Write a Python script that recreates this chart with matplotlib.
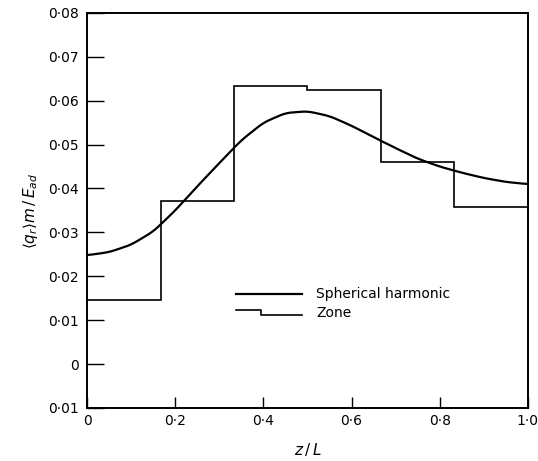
import matplotlib
matplotlib.use("Agg")
import matplotlib.pyplot as plt
from matplotlib.legend_handler import HandlerBase
from matplotlib.lines import Line2D
import numpy as np

# Zone model (step values over six equal zones)
zone_edges = [0, 1/6, 1/3, 1/2, 2/3, 5/6, 1.0]
zone_values = [0.0145, 0.0372, 0.0634, 0.0624, 0.0461, 0.0357]

# Spherical harmonic solution (smooth curve)
sh_z = [0.0, 0.05, 0.10, 0.15, 0.20, 0.25, 0.30, 0.35, 0.40, 0.45, 0.50,
        0.55, 0.60, 0.65, 0.70, 0.75, 0.80, 0.85, 0.90, 0.95, 1.0]
sh_v = [0.0248, 0.0255, 0.0272, 0.0302, 0.0350, 0.0405, 0.0458, 0.0510,
        0.0550, 0.0572, 0.0576, 0.0565, 0.0543, 0.0517, 0.0492, 0.0468,
        0.0450, 0.0436, 0.0424, 0.0415, 0.0410]

x_ticks = [0, 0.2, 0.4, 0.6, 0.8, 1.0]
x_labels = ["0", "0·2", "0·4", "0·6", "0·8", "1·0"]
y_ticks = [-0.01, 0.0, 0.01, 0.02, 0.03, 0.04, 0.05, 0.06, 0.07, 0.08]
y_labels = ["0·01", "0", "0·01", "0·02", "0·03", "0·04", "0·05", "0·06", "0·07", "0·08"]

plt.rcParams['font.family'] = ['DejaVu Sans']

fig = plt.figure(figsize=(5.38, 4.61), dpi=100)
ax = fig.add_axes([0.162, 0.115, 0.819, 0.857])

# smooth curve
zz = np.linspace(0, 1, 300)
vv = np.interp(zz, sh_z, sh_v)
# light smoothing of the interpolated polyline
k = 9
kern = np.ones(k) / k
vpad = np.pad(vv, (k // 2, k // 2), mode='edge')
vs = np.convolve(vpad, kern, mode='valid')
ax.plot(zz, vs, color='black', lw=1.6, label='Spherical harmonic')

ax.stairs(zone_values, zone_edges, baseline=None, color='black', lw=1.2,
          label='Zone')

ax.set_xlim(0, 1.0)
ax.set_ylim(-0.01, 0.08)
ax.set_xticks(x_ticks)
ax.set_xticklabels(x_labels)
ax.set_yticks(y_ticks)
ax.set_yticklabels(y_labels)
ax.tick_params(axis='y', direction='in', length=12, width=1.0, pad=6,
               labelsize=10)
ax.tick_params(axis='x', direction='in', length=8, width=1.0, pad=4,
               labelsize=10)
for s in ax.spines.values():
    s.set_linewidth(1.4)

ax.set_xlabel(r"$z\,/\,L$", fontsize=11, labelpad=10)
ax.set_ylabel(r"$\langle q_r\rangle m\,/\,E_{ad}$", fontsize=11, labelpad=6)


class StepHandler(HandlerBase):
    def create_artists(self, legend, orig_handle, xdescent, ydescent,
                       width, height, fontsize, trans):
        x0 = -xdescent
        xm = x0 + 0.38 * width
        x1 = x0 + width
        yh = height / 2.0 + 2.0
        yl = height / 2.0 - 2.0
        line = Line2D([x0, xm, xm, x1], [yh, yh, yl, yl], color='black',
                      lw=1.2, transform=trans)
        return [line]


handles, labels = ax.get_legend_handles_labels()
ax.legend(handles, labels, loc='upper left', bbox_to_anchor=(0.338, 0.305),
          frameon=False, borderpad=0, borderaxespad=0, handlelength=4.75,
          handletextpad=1.0, labelspacing=0.35, fontsize=10,
          handler_map={type(handles[1]): StepHandler()})

fig.savefig("out.png", dpi=100)
